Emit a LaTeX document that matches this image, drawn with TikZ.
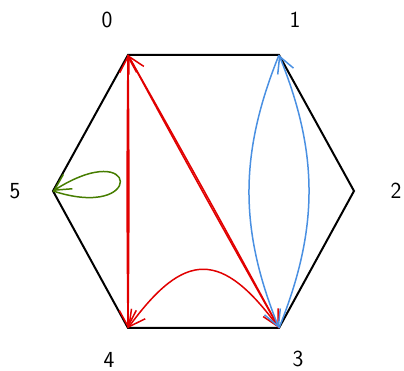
\documentclass[tikz,border=0pt]{standalone}
\usetikzlibrary{arrows.meta}
\definecolor{ared}{RGB}{225,0,0}
\definecolor{ablue}{RGB}{74,144,226}
\definecolor{agreen}{RGB}{70,125,0}
\begin{document}
\begin{tikzpicture}[x=1pt,y=1pt,
  edge/.style={line width=2pt,black},
  arc/.style={line width=1.5pt,-{Straight Barb[length=16pt,width=17pt,line width=1.5pt]}},
  lab/.style={font=\sffamily\fontsize{23}{27}\selectfont,inner sep=0pt}]
\useasboundingbox (0,0) rectangle (404,371);
\coordinate (v0) at (128,316);
\coordinate (v1) at (279,316);
\coordinate (v2) at (354,180);
\coordinate (v3) at (279,43);
\coordinate (v4) at (128,43);
\coordinate (v5) at (53,180);
\node[lab] (l0) at (107,351) {0};
\node[lab] (l1) at (295,351) {1};
\node[lab] (l2) at (396,180) {2};
\node[lab] (l3) at (298,12) {3};
\node[lab] (l4) at (109,11) {4};
\node[lab] (l5) at (15,180) {5};
\draw[edge] (v0) -- (v1) -- (v2) -- (v3) -- (v4) -- (v5) -- cycle;
\draw[arc,ared] (v0) to[bend right=0.6] (v4);
\draw[arc,ared] (v4) to[bend right=0.6] (v0);
\draw[arc,ared] (v0) to[bend left=0.5] (v3);
\draw[arc,ared] (v3) to[bend left=0.5] (v0);
\draw[arc,ared] (v3) .. controls (222,121) and (185,121) .. (v4);
\draw[arc,ablue] (v1) to[bend right=22] (v3);
\draw[arc,ablue] (v3) to[bend right=22] (v1);
\draw[arc,agreen] (v5) .. controls (145,150) and (140,235) .. (v5);
\end{tikzpicture}
\end{document}
